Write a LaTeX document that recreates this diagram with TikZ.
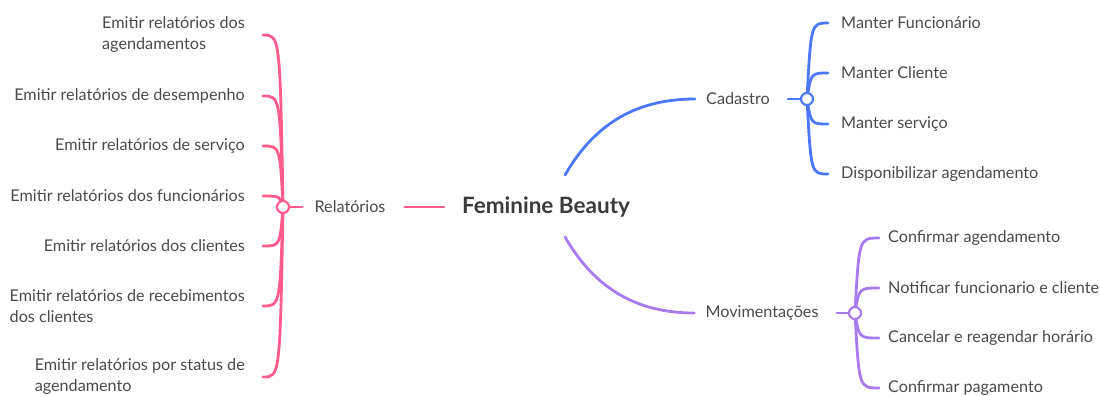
\documentclass[tikz,border=0pt]{standalone}
\usepackage{fontspec}
\setmainfont{Lato}
\usetikzlibrary{positioning,calc}
\definecolor{rosa}{HTML}{FF5C8D}
\definecolor{azul}{HTML}{4B78FA}
\definecolor{roxo}{HTML}{A77BEF}
\definecolor{cinza}{HTML}{4A4A4A}
\definecolor{escuro}{HTML}{3A3A3A}

\begin{document}
\begin{tikzpicture}[x=1pt,y=-1pt,
  every node/.style={font=\fontsize{16.2}{21}\selectfont,text=cinza},
  topic/.style={inner sep=0pt},
  leafL/.style={anchor=east,align=left,inner xsep=18pt,inner ysep=0pt},
  leafR/.style={anchor=west,inner xsep=13pt,inner ysep=0pt},
  joint/.style={circle,draw,fill=white,line width=2.2pt,minimum size=12pt,inner sep=0pt},
  rosaline/.style={draw=rosa,line width=2.8pt,line cap=round},
  azulline/.style={draw=azul,line width=2.8pt,line cap=round},
  roxoline/.style={draw=roxo,line width=2.8pt,line cap=round}]
\useasboundingbox (0,0) rectangle (1100,396);

% central topic
\node[topic,font=\fontsize{22.5}{26}\selectfont\bfseries,text=escuro] (fb) at (546,207) {Feminine Beauty};
\coordinate (fbleft) at (444,207);
\coordinate (fbtop) at (565,175);
\coordinate (fbbot) at (565,237);

% main branches
\node[topic] (rel) at (350,207) {Relatórios};
\node[topic] (cad) at (738,99) {Cadastro};
\node[topic] (mov) at (762,313) {Movimentações};

\coordinate (pr) at (283,207);
\coordinate (pc) at (807,99);
\coordinate (pm) at (855,313);

% Relatórios leaves
\node[leafL] (r1) at (263,35) {Emitir relatórios dos\\agendamentos};
\node[leafL] (r2) at (263,96) {Emitir relatórios de desempenho};
\node[leafL] (r3) at (263,146) {Emitir relatórios de serviço};
\node[leafL] (r4) at (263,196) {Emitir relatórios dos funcionários};
\node[leafL] (r5) at (263,246) {Emitir relatórios dos clientes};
\node[leafL] (r6) at (263,306) {Emitir relatórios de recebimentos\\dos clientes};
\node[leafL] (r7) at (263,377) {Emitir relatórios por status de\\agendamento};

% Cadastro leaves
\node[leafR] (c1) at (828,23) {Manter Funcionário};
\node[leafR] (c2) at (828,73) {Manter Cliente};
\node[leafR] (c3) at (828,124) {Manter serviço};
\node[leafR] (c4) at (828,174) {Disponibilizar agendamento};

% Movimentações leaves
\node[leafR,inner xsep=9pt] (m1) at (879,238) {Confirmar agendamento};
\node[leafR,inner xsep=9pt] (m2) at (879,288) {Notificar funcionario e cliente};
\node[leafR,inner xsep=9pt] (m3) at (879,338) {Cancelar e reagendar horário};
\node[leafR,inner xsep=9pt] (m4) at (879,388) {Confirmar pagamento};

% connectors
\draw[rosaline] ([xshift=19pt]rel.east) -- (fbleft);
\draw[rosaline] (pr) -- ([xshift=-12pt]rel.west);
\draw[azulline] (fbtop) to[out=60,in=180] ([xshift=-11pt]cad.west);
\draw[azulline] ([xshift=18pt]cad.east) -- (pc);
\draw[roxoline] (fbbot) to[out=-60,in=180] ([xshift=-11pt]mov.west);
\draw[roxoline] ([xshift=18pt]mov.east) -- (pm);

\foreach \l in {r1,r2,r3,r4,r5,r6,r7}
  \draw[rosaline] (pr) .. controls ($(pr |- \l.east)+(-3,0)$) and ($(pr |- \l.east)+(-3,0)$) .. (\l.east);
\foreach \l in {c1,c2,c3,c4}
  \draw[azulline] (pc) .. controls ($(pc |- \l.west)+(4,0)$) and ($(pc |- \l.west)+(4,0)$) .. (\l.west);
\foreach \l in {m1,m2,m3,m4}
  \draw[roxoline] (pm) .. controls ($(pm |- \l.west)+(4,0)$) and ($(pm |- \l.west)+(4,0)$) .. (\l.west);

% joints on top
\node[joint,draw=rosa] (jr) at (pr) {};
\node[joint,draw=azul] (jc) at (pc) {};
\node[joint,draw=roxo] (jm) at (pm) {};
\end{tikzpicture}
\end{document}
